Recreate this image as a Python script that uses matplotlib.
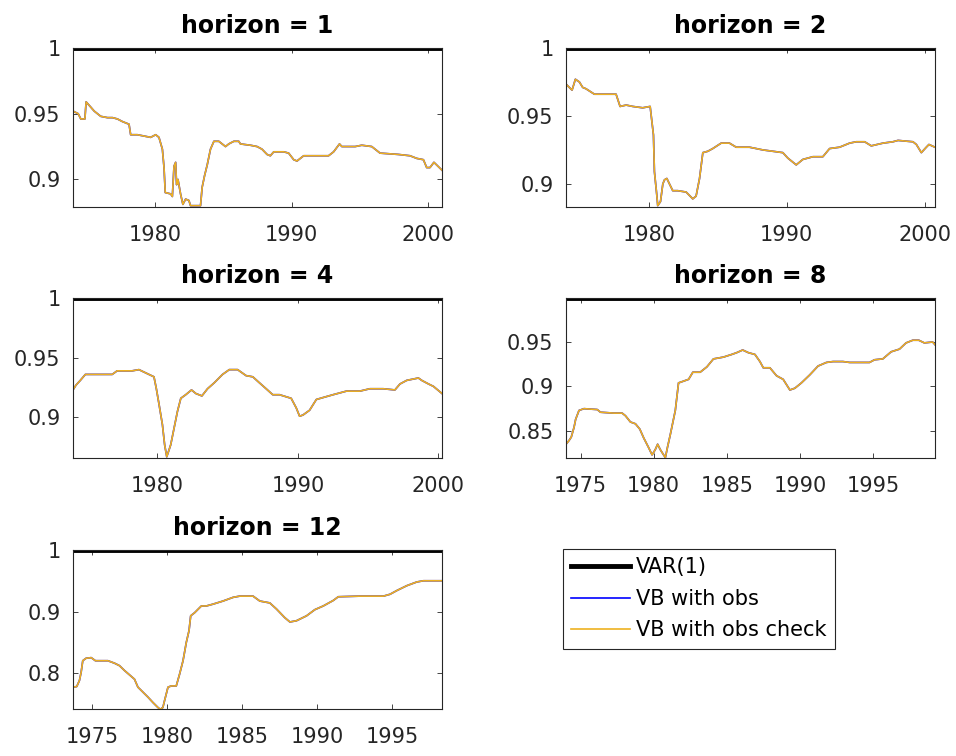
import matplotlib.pyplot as plt
from matplotlib.ticker import FormatStrFormatter

plt.rcParams['font.family'] = ['DejaVu Sans']

# values, (year, value) pairs per horizon
years_h1 = [1974.0, 1974.38, 1974.57, 1974.87, 1974.96, 1975.30, 1975.55, 1976.03, 1976.52, 1976.89,
            1977.25, 1977.62, 1978.10, 1978.22, 1978.71, 1979.68, 1980.05, 1980.29, 1980.54, 1980.66,
            1980.75, 1981.14, 1981.27, 1981.39, 1981.51, 1981.58, 1981.68, 1981.87, 1982.04, 1982.24,
            1982.48, 1982.60, 1983.33, 1983.45, 1983.63, 1983.82, 1984.06, 1984.31, 1984.67, 1985.16,
            1985.40, 1985.77, 1986.13, 1986.25, 1986.98, 1987.47, 1987.83, 1988.20, 1988.44, 1988.69,
            1989.42, 1989.78, 1990.15, 1990.39, 1990.88, 1991.85, 1992.70, 1993.07, 1993.50, 1993.67,
            1994.65, 1995.13, 1995.86, 1996.47, 1997.81, 1998.66, 1999.15, 1999.64, 1999.88, 2000.12,
            2000.41, 2000.61, 2001.0]
vb_obs_h1 = [0.952, 0.950, 0.946, 0.946, 0.959, 0.955, 0.952, 0.948, 0.947, 0.947,
             0.946, 0.944, 0.942, 0.934, 0.934, 0.932, 0.934, 0.932, 0.923, 0.909,
             0.890, 0.889, 0.887, 0.910, 0.913, 0.896, 0.900, 0.889, 0.881, 0.885,
             0.884, 0.880, 0.880, 0.894, 0.903, 0.911, 0.923, 0.929, 0.929, 0.925,
             0.927, 0.929, 0.929, 0.927, 0.926, 0.925, 0.923, 0.919, 0.918, 0.921,
             0.921, 0.920, 0.915, 0.914, 0.918, 0.918, 0.918, 0.921, 0.927, 0.925,
             0.925, 0.926, 0.925, 0.920, 0.919, 0.918, 0.916, 0.915, 0.909, 0.909,
             0.913, 0.911, 0.907]

years_h2 = [1974.0, 1974.24, 1974.44, 1974.68, 1974.97, 1975.21, 1975.45, 1976.06, 1977.15, 1977.63,
            1977.92, 1978.36, 1978.84, 1979.56, 1980.10, 1980.34, 1980.41, 1980.58, 1980.65, 1980.85,
            1981.02, 1981.14, 1981.31, 1981.50, 1981.74, 1982.10, 1982.71, 1983.19, 1983.43, 1983.68,
            1983.92, 1984.28, 1984.64, 1985.25, 1985.85, 1986.34, 1987.30, 1987.79, 1988.27, 1989.00,
            1989.72, 1990.08, 1990.69, 1991.17, 1991.90, 1992.62, 1993.11, 1993.83, 1994.56, 1995.04,
            1995.65, 1996.13, 1996.98, 1997.70, 1998.07, 1999.15, 1999.40, 1999.76, 2000.12, 2000.31,
            2000.75]
vb_obs_h2 = [0.9735, 0.971, 0.969, 0.977, 0.975, 0.971, 0.970, 0.966, 0.966, 0.966,
             0.957, 0.958, 0.957, 0.956, 0.957, 0.936, 0.909, 0.892, 0.884, 0.887,
             0.900, 0.903, 0.904, 0.900, 0.895, 0.895, 0.894, 0.889, 0.891, 0.904,
             0.923, 0.924, 0.926, 0.930, 0.930, 0.927, 0.927, 0.926, 0.925, 0.924,
             0.923, 0.919, 0.914, 0.918, 0.920, 0.920, 0.926, 0.927, 0.930, 0.931,
             0.931, 0.928, 0.930, 0.931, 0.932, 0.931, 0.929, 0.923, 0.927, 0.929,
             0.927]

years_h4 = [1974.0, 1974.21, 1974.52, 1974.88, 1976.79, 1977.14, 1978.21, 1978.69, 1979.40, 1979.76,
            1979.93, 1980.12, 1980.36, 1980.52, 1980.67, 1980.95, 1981.19, 1981.43, 1981.67, 1982.02,
            1982.43, 1982.74, 1983.17, 1983.57, 1984.05, 1984.64, 1985.12, 1985.71, 1986.31, 1986.79,
            1987.26, 1987.74, 1988.21, 1988.69, 1989.52, 1989.88, 1990.12, 1990.36, 1990.83, 1991.31,
            1991.90, 1992.50, 1993.45, 1994.40, 1995.12, 1996.07, 1996.90, 1997.26, 1997.74, 1998.57,
            1998.81, 1999.29, 1999.64, 2000.25]
vb_obs_h4 = [0.923, 0.927, 0.931, 0.936, 0.936, 0.939, 0.939, 0.940, 0.936, 0.934,
             0.924, 0.911, 0.894, 0.877, 0.867, 0.877, 0.891, 0.905, 0.916, 0.919,
             0.923, 0.920, 0.918, 0.924, 0.929, 0.936, 0.940, 0.940, 0.935, 0.934,
             0.929, 0.924, 0.919, 0.919, 0.916, 0.908, 0.901, 0.902, 0.906, 0.915,
             0.917, 0.919, 0.922, 0.922, 0.924, 0.924, 0.923, 0.928, 0.931, 0.933,
             0.931, 0.928, 0.926, 0.920]

years_h8 = [1974.0, 1974.20, 1974.36, 1974.55, 1974.66, 1974.89, 1975.23, 1976.14, 1976.36, 1977.27,
            1977.84, 1978.07, 1978.41, 1978.75, 1979.05, 1979.32, 1979.66, 1979.89, 1980.11, 1980.27,
            1980.45, 1980.64, 1980.80, 1980.95, 1981.14, 1981.48, 1981.70, 1982.05, 1982.39, 1982.68,
            1983.18, 1983.64, 1984.09, 1984.77, 1985.34, 1985.68, 1986.09, 1986.48, 1986.93, 1987.27,
            1987.50, 1987.95, 1988.41, 1988.86, 1989.32, 1989.66, 1990.11, 1990.68, 1991.25, 1991.82,
            1992.27, 1992.95, 1993.41, 1994.77, 1995.11, 1995.68, 1996.25, 1996.82, 1997.27, 1997.73,
            1998.14, 1998.52, 1999.09, 1999.25]
vb_obs_h8 = [0.835, 0.839, 0.843, 0.854, 0.863, 0.873, 0.875, 0.874, 0.871, 0.870,
             0.870, 0.867, 0.860, 0.858, 0.852, 0.842, 0.831, 0.823, 0.829, 0.835,
             0.829, 0.824, 0.820, 0.832, 0.846, 0.873, 0.904, 0.906, 0.908, 0.916,
             0.916, 0.922, 0.931, 0.933, 0.936, 0.938, 0.941, 0.938, 0.936, 0.928,
             0.921, 0.921, 0.912, 0.908, 0.896, 0.898, 0.904, 0.913, 0.923, 0.927,
             0.928, 0.928, 0.927, 0.927, 0.930, 0.931, 0.939, 0.942, 0.949, 0.952,
             0.952, 0.949, 0.950, 0.947]

years_h12 = [1973.75, 1974.0, 1974.18, 1974.29, 1974.40, 1974.62, 1974.96, 1975.24, 1976.07, 1976.51,
             1976.84, 1977.18, 1977.51, 1977.84, 1978.07, 1978.40, 1978.73, 1979.07, 1979.40, 1979.56,
             1979.73, 1979.84, 1980.07, 1980.29, 1980.62, 1980.84, 1981.07, 1981.29, 1981.47, 1981.58,
             1981.84, 1982.29, 1982.62, 1983.07, 1983.73, 1984.40, 1984.84, 1985.73, 1986.18, 1986.84,
             1987.29, 1987.84, 1988.18, 1988.62, 1989.29, 1989.84, 1990.40, 1991.07, 1991.40, 1992.84,
             1994.40, 1994.84, 1995.29, 1995.96, 1996.62, 1997.07, 1998.30]
vb_obs_h12 = [0.777, 0.778, 0.788, 0.801, 0.820, 0.824, 0.825, 0.820, 0.820, 0.816,
              0.812, 0.804, 0.797, 0.790, 0.777, 0.769, 0.761, 0.752, 0.744, 0.741,
              0.744, 0.755, 0.777, 0.779, 0.779, 0.798, 0.820, 0.850, 0.869, 0.893,
              0.898, 0.909, 0.909, 0.912, 0.917, 0.923, 0.925, 0.925, 0.917, 0.914,
              0.904, 0.890, 0.883, 0.885, 0.893, 0.903, 0.909, 0.918, 0.924, 0.925,
              0.925, 0.928, 0.934, 0.942, 0.948, 0.950, 0.950]

# the "check" run lies on top of the plain run everywhere
vb_check_h1 = list(vb_obs_h1)
vb_check_h2 = list(vb_obs_h2)
vb_check_h4 = list(vb_obs_h4)
vb_check_h8 = list(vb_obs_h8)
vb_check_h12 = list(vb_obs_h12)

VAR1 = 1.0  # VAR(1) benchmark

horizons = [1, 2, 4, 8, 12]
years = [years_h1, years_h2, years_h4, years_h8, years_h12]
vb_obs = [vb_obs_h1, vb_obs_h2, vb_obs_h4, vb_obs_h8, vb_obs_h12]
vb_check = [vb_check_h1, vb_check_h2, vb_check_h4, vb_check_h8, vb_check_h12]
y_bottoms = [0.879, 0.883, 0.866, 0.8195, 0.7415]
y_tops = [1.0, 1.0, 1.0, 0.9995, 1.0]
y_ticks = [[0.9, 0.95, 1], [0.9, 0.95, 1], [0.9, 0.95, 1], [0.85, 0.9, 0.95], [0.8, 0.9, 1]]
x_ticks = [[1980, 1990, 2000]] * 3 + [[1975, 1980, 1985, 1990, 1995]] * 2

W, H = 956, 756
# axes boxes in pixels: left, top, right, bottom
boxes = [(73, 48, 442, 207), (566, 48, 935, 207),
         (73, 298, 442, 458), (566, 298, 935, 458),
         (73, 550, 442, 709)]

fig = plt.figure(figsize=(W / 100, H / 100), dpi=100)
dark = '#262626'

for i, h in enumerate(horizons):
    l, t, r, b = boxes[i]
    ax = fig.add_axes([l / W, 1 - b / H, (r - l) / W, (b - t) / H])
    x = years[i]
    ax.plot([x[0], x[-1]], [VAR1, VAR1], color='black', lw=3.5, label='VAR(1)')
    ax.plot(x, vb_obs[i], color='#0000FF', lw=1.2, label='VB with obs')
    ax.plot(x, vb_check[i], color='#EDB120', lw=1.2, label='VB with obs check')
    ax.set_xlim(x[0], x[-1])
    ax.set_ylim(y_bottoms[i], y_tops[i])
    ax.set_xticks(x_ticks[i])
    ax.set_yticks(y_ticks[i])
    ax.yaxis.set_major_formatter(FormatStrFormatter('%g'))
    ax.tick_params(direction='in', length=3.5, width=0.6, top=True, right=True,
                   color=dark, labelcolor=dark, labelsize=15)
    ax.tick_params(axis='x', pad=13)
    ax.tick_params(axis='y', pad=9)
    for s in ax.spines.values():
        s.set_color(dark)
        s.set_linewidth(0.8)
    ax.set_title('horizon = %d' % h, fontsize=17, fontweight='bold', pad=11)
    if i == 0:
        handles, labels = ax.get_legend_handles_labels()

leg = fig.legend(handles, labels, loc='upper left', bbox_to_anchor=(563 / W, 1 - 549 / H),
                 fontsize=15, frameon=True, fancybox=False, framealpha=1, edgecolor=dark,
                 handlelength=2.8, handletextpad=0.3, labelspacing=0.55, borderpad=0.4,
                 borderaxespad=0)
leg.get_frame().set_linewidth(0.8)

plt.savefig('out.png', dpi=100)
